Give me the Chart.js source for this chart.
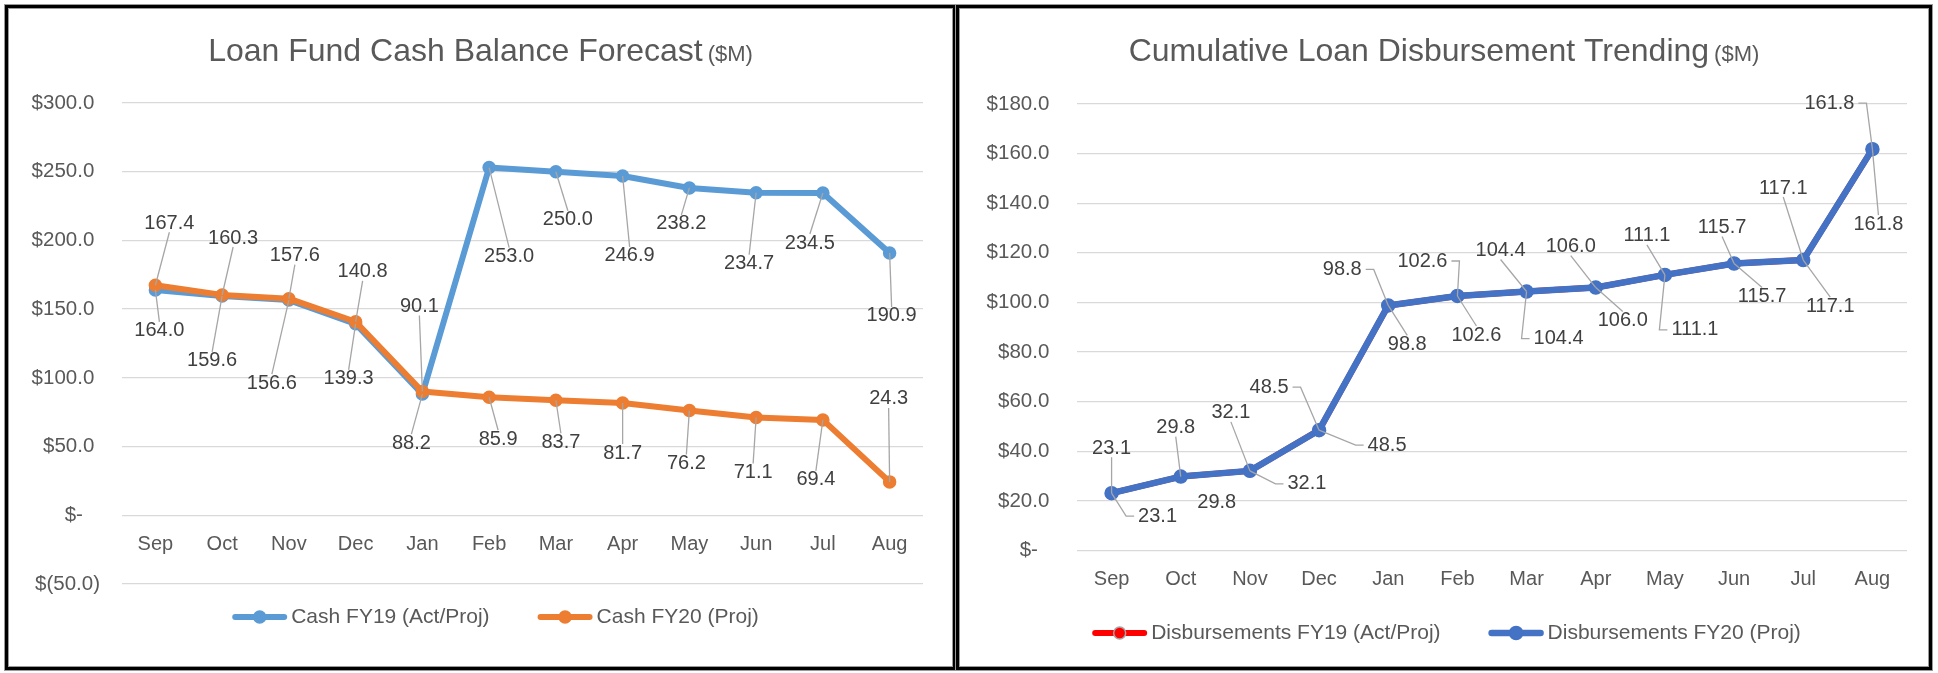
<!DOCTYPE html>
<html>
<head>
<meta charset="utf-8">
<title>Loan Fund charts</title>
<script src="https://cdn.jsdelivr.net/npm/chart.js@4.4.0/dist/chart.umd.min.js"></script>
<style>
  html, body { margin: 0; padding: 0; background: #fff; }
  body { width: 1938px; height: 673px; position: relative; overflow: hidden; }
  .panel {
    position: absolute;
    top: 5px;
    height: 659px;
    border: 3px solid #000;
    box-shadow: inset 0 0 0 1px #9a9a9a, 0 0 0 1px #9a9a9a;
    background: #fff;
  }
  #panelLeft { left: 5px; width: 945px; }
  #panelRight { left: 956px; width: 970px; }
  .panel canvas { position: absolute; left: 0; top: 0; }
</style>
</head>
<body>
<div class="panel" id="panelLeft"><canvas id="cashChart" width="945" height="659"></canvas></div>
<div class="panel" id="panelRight"><canvas id="disbChart" width="970" height="659"></canvas></div>

<script>
// Datos
const months = ['Sep', 'Oct', 'Nov', 'Dec', 'Jan', 'Feb', 'Mar', 'Apr', 'May', 'Jun', 'Jul', 'Aug'];

const cashFY19 = [164.0, 159.6, 156.6, 139.3, 88.2, 253.0, 250.0, 246.9, 238.2, 234.7, 234.5, 190.9];
const cashFY20 = [167.4, 160.3, 157.6, 140.8, 90.1, 85.9, 83.7, 81.7, 76.2, 71.1, 69.4, 24.3];
const cashTickValues = [-50, 0, 50, 100, 150, 200, 250, 300];
const cashTickLabels = ['$(50.0)', '$-', '$50.0', '$100.0', '$150.0', '$200.0', '$250.0', '$300.0'];

const disbFY19 = [23.1, 29.8, 32.1, 48.5, 98.8, 102.6, 104.4, 106.0, 111.1, 115.7, 117.1, 161.8];
const disbFY20 = [23.1, 29.8, 32.1, 48.5, 98.8, 102.6, 104.4, 106.0, 111.1, 115.7, 117.1, 161.8];
const disbTickValues = [0, 20, 40, 60, 80, 100, 120, 140, 160, 180];
const disbTickLabels = ['$-', '$20.0', '$40.0', '$60.0', '$80.0', '$100.0', '$120.0', '$140.0', '$160.0', '$180.0'];

// Desplazamiento de las etiquetas (px) respecto a cada punto: [dx, dy, conLinea]
const cashFY19LabelPos = [[4, 41], [-10, 65], [-17, 83], [-7, 55], [-11, 49], [20, 89], [12, 48], [7, 80], [-8, 36], [-7, 71], [-13, 50], [2, 63]];
const cashFY20LabelPos = [[14, -62], [11, -57], [6, -43], [7, -50], [-3, -85], [9, 42], [5, 42], [0, 50], [-3, 53], [-3, 55], [-7, 60], [-1, -83]];
const disbFY19LabelPos = [[0, -45], [-5, -49], [-19, -58], [-50, -43], [-46, -36], [-35, -35], [-26, -41], [-25, -41], [-18, -39], [-12, -36], [-20, -72], [-43, -46]];
const disbFY20LabelPos = [[46, 23], [36, 26, false], [57, 13], [68, 15], [19, 39], [19, 39], [32, 47], [27, 33], [30, 55], [28, 33], [27, 46], [6, 75]];

const FONT = "'Liberation Sans', Arial, sans-serif";
const TEXT = '#595959';

function tickText(value, values, labels) {
    const i = values.indexOf(value);
    if (i < 0) return '';
    const label = labels[i];
    // formato contable: parentesis a la derecha, guion con espacios
    if (label.endsWith(')')) return label;
    if (label === '$-') return label + '   ';
    return label + ' ';
}

// Titulo con sufijo mas pequeno
function titlePlugin(main, suffix, baseline) {
    return {
        id: 'splitTitle',
        afterDraw(chart) {
            const ctx = chart.ctx;
            ctx.save();
            ctx.fillStyle = TEXT;
            ctx.textBaseline = 'alphabetic';
            ctx.textAlign = 'left';
            ctx.font = '32px ' + FONT;
            const w1 = ctx.measureText(main).width;
            ctx.font = '22px ' + FONT;
            const w2 = ctx.measureText(suffix).width;
            const gap = 5;
            let x = chart.width / 2 - (w1 + gap + w2) / 2;
            ctx.font = '32px ' + FONT;
            ctx.fillText(main, x, baseline);
            ctx.font = '22px ' + FONT;
            ctx.fillText(suffix, x + w1 + gap, baseline);
            ctx.restore();
        }
    };
}

// Etiquetas de datos con lineas guia
const pointLabels = {
    id: 'pointLabels',
    afterDatasetsDraw(chart) {
        const ctx = chart.ctx;
        ctx.save();
        ctx.font = '20px ' + FONT;
        ctx.textAlign = 'center';
        ctx.textBaseline = 'middle';
        chart.data.datasets.forEach((ds, di) => {
            const meta = chart.getDatasetMeta(di);
            meta.data.forEach((pt, i) => {
                const pos = ds.labelPos[i];
                const text = ds.data[i].toFixed(1);
                const w = ctx.measureText(text).width + 4;
                const h = 18;
                const lx = pt.x + pos[0];
                const ly = pt.y + pos[1];
                let ax, ay, sx = null;
                if (Math.abs(pos[0]) > w / 2 + 2) {
                    const side = pos[0] > 0 ? -1 : 1;
                    ax = lx + side * (w / 2 + 2);
                    ay = ly;
                    sx = ax + side * 8;
                } else {
                    ax = lx;
                    ay = ly + (pos[1] > 0 ? -h / 2 : h / 2);
                }
                const dist = Math.hypot(ax - pt.x, ay - pt.y);
                if (pos[2] !== false && dist > 10) {
                    ctx.strokeStyle = '#A6A6A6';
                    ctx.lineWidth = 1.3;
                    ctx.beginPath();
                    ctx.moveTo(ax, ay);
                    if (sx !== null) ctx.lineTo(sx, ay);
                    ctx.lineTo(pt.x, pt.y);
                    ctx.stroke();
                }
                ctx.fillStyle = '#404040';
                ctx.fillText(text, lx, ly);
            });
        });
        ctx.restore();
    }
};

// Leyenda con linea y marcador
function legendPlugin(cx, cy) {
    return {
        id: 'lineLegend',
        afterDraw(chart) {
            const ctx = chart.ctx;
            ctx.save();
            ctx.font = '21px ' + FONT;
            const items = chart.data.datasets.map(ds => ({ ds, w: 59 + ctx.measureText(ds.label).width }));
            const gap = 48;
            const total = items.reduce((s, it) => s + it.w, 0) + gap * (items.length - 1);
            let x = cx - total / 2;
            items.forEach(it => {
                const ds = it.ds;
                ctx.strokeStyle = ds.borderColor;
                ctx.lineWidth = ds.borderWidth;
                ctx.lineCap = 'round';
                ctx.beginPath();
                ctx.moveTo(x + 3, cy);
                ctx.lineTo(x + 52, cy);
                ctx.stroke();
                ctx.beginPath();
                ctx.arc(x + 27.5, cy, ds.pointRadius, 0, Math.PI * 2);
                ctx.fillStyle = ds.pointBackgroundColor;
                ctx.fill();
                ctx.lineWidth = ds.pointBorderWidth;
                ctx.strokeStyle = ds.pointBorderColor;
                ctx.stroke();
                ctx.fillStyle = TEXT;
                ctx.textAlign = 'left';
                ctx.textBaseline = 'middle';
                ctx.fillText(ds.label, x + 59, cy);
                x += it.w + gap;
            });
            ctx.restore();
        }
    };
}

function lineSet(label, data, color, labelPos, order, width, radius, pointBorder) {
    return {
        label: label,
        data: data,
        borderColor: color,
        backgroundColor: color,
        borderWidth: width,
        pointRadius: radius,
        pointHoverRadius: radius,
        pointBackgroundColor: color,
        pointBorderColor: pointBorder || color,
        pointBorderWidth: 1.5,
        borderJoinStyle: 'round',
        borderCapStyle: 'round',
        tension: 0,
        fill: false,
        order: order,
        labelPos: labelPos
    };
}

function buildOptions(min, max, step, tickValues, tickLabels, axisWidth, padding) {
    return {
        responsive: false,
        animation: false,
        layout: { padding: padding },
        plugins: {
            legend: { display: false },
            title: { display: false },
            tooltip: { enabled: false }
        },
        scales: {
            x: {
                type: 'category',
                offset: true,
                position: { y: 0 },
                grid: { display: false, drawTicks: false },
                border: { display: false },
                ticks: {
                    font: { family: FONT, size: 20 },
                    color: TEXT,
                    padding: 17,
                    autoSkip: false,
                    maxRotation: 0
                }
            },
            y: {
                min: min,
                max: max,
                grid: { color: '#D9D9D9', lineWidth: 1.3, drawTicks: false },
                border: { display: false },
                ticks: {
                    stepSize: step,
                    font: { family: FONT, size: 20.5 },
                    color: TEXT,
                    padding: 22,
                    callback: v => tickText(v, tickValues, tickLabels)
                },
                afterFit: s => { s.width = axisWidth; }
            }
        }
    };
}

document.addEventListener('DOMContentLoaded', function() {
    // Grafico 1: saldo de caja
    new Chart(document.getElementById('cashChart'), {
        type: 'line',
        data: {
            labels: months,
            datasets: [
                lineSet('Cash FY19 (Act/Proj)', cashFY19, '#5B9BD5', cashFY19LabelPos, 1, 6, 6),
                lineSet('Cash FY20 (Proj)', cashFY20, '#ED7D31', cashFY20LabelPos, 0, 6, 6)
            ]
        },
        options: buildOptions(-50, 300, 50, cashTickValues, cashTickLabels, 114,
            { top: 95, bottom: 83, left: 0, right: 30 }),
        plugins: [titlePlugin('Loan Fund Cash Balance Forecast', '($M)', 52.7), pointLabels, legendPlugin(487.5, 609)]
    });

    // Grafico 2: desembolsos acumulados
    new Chart(document.getElementById('disbChart'), {
        type: 'line',
        data: {
            labels: months,
            datasets: [
                lineSet('Disbursements FY19 (Act/Proj)', disbFY19, '#FF0000', disbFY19LabelPos, 1, 6, 6, '#A5A5A5'),
                lineSet('Disbursements FY20 (Proj)', disbFY20, '#4472C4', disbFY20LabelPos, 0, 6.5, 6.5)
            ]
        },
        options: buildOptions(0, 180, 20, disbTickValues, disbTickLabels, 118,
            { top: 96, bottom: 116.5, left: 0, right: 22 }),
        plugins: [titlePlugin('Cumulative Loan Disbursement Trending', '($M)', 52.7), pointLabels, legendPlugin(487.5, 625)]
    });
});
</script>
</body>
</html>
